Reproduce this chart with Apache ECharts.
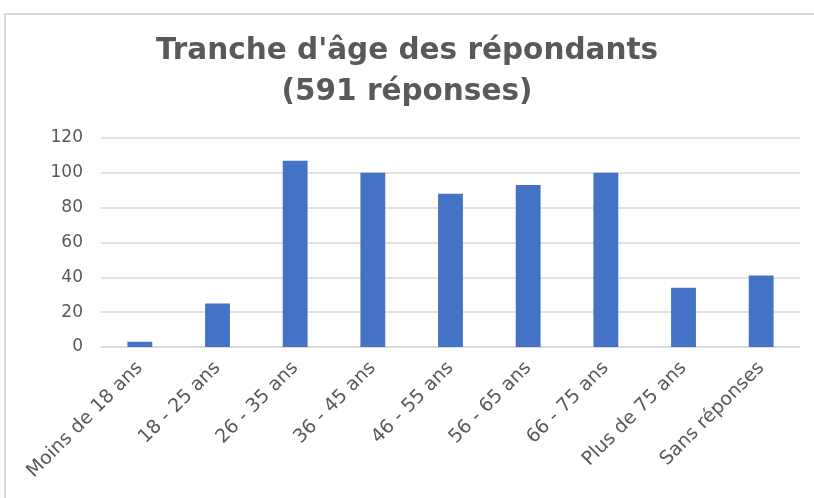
<!DOCTYPE html>
<html>
<head>
<meta charset="utf-8">
<script src="https://cdn.jsdelivr.net/npm/echarts@6/dist/echarts.min.js"></script>
<style>
  html, body { margin: 0; padding: 0; background: #fff; }
  #chart { width: 814px; height: 498px; }
</style>
</head>
<body>
<div id="chart"></div>
<script>
  // données
  var categories = ['Moins de 18 ans', '18 - 25 ans', '26 - 35 ans', '36 - 45 ans', '46 - 55 ans',
    '56 - 65 ans', '66 - 75 ans', 'Plus de 75 ans', 'Sans réponses']
  var values = [3, 25, 107, 100, 88, 93, 100, 34, 41]
  var titleText = "Tranche d'âge des répondants\n(591 réponses)"

  var chart = echarts.init(document.getElementById('chart'))
  chart.setOption({
    animation: false,
    graphic: [{
      type: 'rect',
      shape: { x: 5, y: 14, width: 830, height: 520 },
      style: { fill: 'none', stroke: '#d9d9d9', lineWidth: 2 }
    }],
    title: {
      text: titleText,
      left: 'center',
      top: 26,
      padding: [5, 0, 5, 16],
      textStyle: {
        fontFamily: 'DejaVu Sans',
        fontWeight: 'bold',
        fontSize: 29.5,
        lineHeight: 41,
        color: '#595959'
      }
    },
    grid: {
      left: 101,
      right: 14,
      top: 138,
      bottom: 151
    },
    xAxis: {
      type: 'category',
      data: categories,
      axisLine: { lineStyle: { color: '#d9d9d9', width: 1.5 } },
      axisTick: { show: false },
      axisLabel: {
        rotate: 45,
        interval: 0,
        margin: 18,
        fontFamily: 'DejaVu Sans',
        fontSize: 19,
        color: '#595959'
      }
    },
    yAxis: {
      type: 'value',
      min: 0,
      max: 120,
      interval: 20,
      axisLine: { show: false },
      axisTick: { show: false },
      splitLine: { lineStyle: { color: '#d9d9d9', width: 1.5 } },
      axisLabel: {
        margin: 18,
        fontFamily: 'DejaVu Sans',
        fontSize: 17,
        color: '#595959'
      }
    },
    series: [{
      type: 'bar',
      data: values,
      barWidth: '32%',
      itemStyle: { color: '#4472c4' }
    }]
  })
</script>
</body>
</html>
